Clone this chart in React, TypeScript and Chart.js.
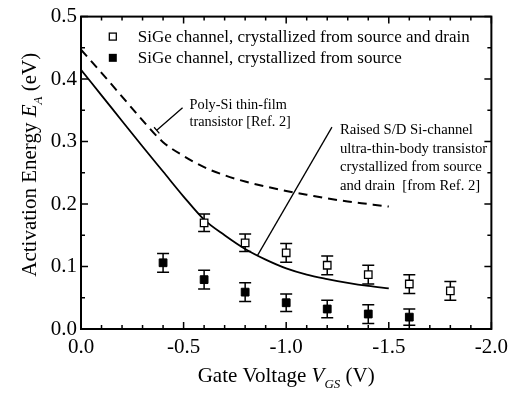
import React, { useEffect, useRef } from "react";
import { Chart, registerables } from "chart.js";

Chart.register(...registerables);

const SERIF = "'Liberation Serif', 'Times New Roman', serif";

// SiGe channel, crystallized from source and drain (open squares)
const vgsSD = [-0.6, -0.8, -1.0, -1.2, -1.4, -1.6, -1.8];
const eaSD = [0.17, 0.138, 0.122, 0.102, 0.087, 0.072, 0.061];
const errSD = [0.014, 0.014, 0.015, 0.015, 0.015, 0.015, 0.015];

// SiGe channel, crystallized from source (filled squares)
const vgsS = [-0.4, -0.6, -0.8, -1.0, -1.2, -1.4, -1.6];
const eaS = [0.106, 0.079, 0.059, 0.042, 0.032, 0.024, 0.019];
const errS = [0.015, 0.015, 0.015, 0.014, 0.014, 0.015, 0.013];

// Reference curves (from Ref. 2)
const vgsCurve = [0, -0.1, -0.2, -0.3, -0.4, -0.5, -0.6, -0.7, -0.8, -0.9, -1.0, -1.1, -1.2, -1.3, -1.4, -1.5];
const eaRaisedSD = [0.415, 0.374, 0.333, 0.292, 0.252, 0.212, 0.175, 0.15, 0.128, 0.111, 0.097, 0.087, 0.08, 0.074, 0.069, 0.065];
const eaPolySi = [0.447, 0.41, 0.372, 0.334, 0.299, 0.277, 0.259, 0.246, 0.236, 0.228, 0.221, 0.215, 0.209, 0.204, 0.2, 0.196];

const xTickValues = [0, -0.5, -1.0, -1.5, -2.0];
const yTickValues = [0, 0.1, 0.2, 0.3, 0.4, 0.5];

const legendLabels = [
  "SiGe channel, crystallized from source and drain",
  "SiGe channel, crystallized from source",
];
const polyLabel = ["Poly-Si thin-film", "transistor [Ref. 2]"];
const raisedLabel = [
  "Raised S/D Si-channel",
  "ultra-thin-body transistor",
  "crystallized from source",
  "and drain  [from Ref. 2]",
];

const pts = (xs: number[], ys: number[]) => xs.map((v, i) => ({ x: v, y: ys[i] }));

type Piece = { t: string; italic?: boolean; sub?: boolean };

function drawRich(ctx: CanvasRenderingContext2D, pieces: Piece[], size: number, cx: number, baseline: number) {
  const fontOf = (p: Piece) =>
    `${p.italic ? "italic " : ""}${p.sub ? Math.round(size * 0.62) : size}px ${SERIF}`;
  let total = 0;
  for (const p of pieces) {
    ctx.font = fontOf(p);
    total += ctx.measureText(p.t).width;
  }
  let xpos = cx - total / 2;
  ctx.textAlign = "left";
  ctx.textBaseline = "alphabetic";
  for (const p of pieces) {
    ctx.font = fontOf(p);
    ctx.fillText(p.t, xpos, baseline + (p.sub ? size * 0.3 : 0));
    xpos += ctx.measureText(p.t).width;
  }
}

const overlay = {
  id: "overlay",
  beforeDatasetsDraw(chart: any) {
    const { ctx, scales } = chart;
    const x = scales.x;
    const y = scales.y;
    ctx.save();
    ctx.strokeStyle = "#000";
    ctx.lineWidth = 1.5;
    const bars = (xs: number[], ys: number[], es: number[]) =>
      xs.forEach((v, i) => {
        const px = x.getPixelForValue(v);
        const top = y.getPixelForValue(ys[i] + es[i]);
        const bot = y.getPixelForValue(ys[i] - es[i]);
        ctx.beginPath();
        ctx.moveTo(px, top);
        ctx.lineTo(px, bot);
        ctx.moveTo(px - 6, top);
        ctx.lineTo(px + 6, top);
        ctx.moveTo(px - 6, bot);
        ctx.lineTo(px + 6, bot);
        ctx.stroke();
      });
    bars(vgsSD, eaSD, errSD);
    bars(vgsS, eaS, errS);
    ctx.restore();
  },
  afterDraw(chart: any) {
    const { ctx, chartArea, scales } = chart;
    const x = scales.x;
    const y = scales.y;
    const { left, right, top, bottom } = chartArea;
    ctx.save();
    ctx.strokeStyle = "#000";
    ctx.fillStyle = "#000";

    // frame
    ctx.lineWidth = 2;
    ctx.strokeRect(left, top, right - left, bottom - top);

    // inward ticks on all four sides
    ctx.lineWidth = 1.5;
    ctx.beginPath();
    for (let k = 0; k <= 20; k++) {
      const v = -k / 10;
      const px = x.getPixelForValue(v);
      const len = k % 5 === 0 ? 7 : 4;
      ctx.moveTo(px, bottom);
      ctx.lineTo(px, bottom - len);
      ctx.moveTo(px, top);
      ctx.lineTo(px, top + len);
    }
    for (let k = 0; k <= 10; k++) {
      const v = k / 20;
      const py = y.getPixelForValue(v);
      const len = k % 2 === 0 ? 7 : 4;
      ctx.moveTo(left, py);
      ctx.lineTo(left + len, py);
      ctx.moveTo(right, py);
      ctx.lineTo(right - len, py);
    }
    ctx.stroke();

    // legend
    const legendMarkX = x.getPixelForValue(-0.155);
    const legendTextX = x.getPixelForValue(-0.277);
    const rows = [0.468, 0.434];
    rows.forEach((rv, i) => {
      const py = y.getPixelForValue(rv);
      ctx.lineWidth = 1.3;
      if (i === 0) {
        ctx.fillStyle = "#fff";
        ctx.fillRect(legendMarkX - 3.5, py - 3.5, 7, 7);
        ctx.strokeRect(legendMarkX - 3.5, py - 3.5, 7, 7);
        ctx.fillStyle = "#000";
      } else {
        ctx.fillRect(legendMarkX - 4, py - 4, 8, 8);
      }
      ctx.font = `17px ${SERIF}`;
      ctx.textAlign = "left";
      ctx.textBaseline = "alphabetic";
      ctx.fillText(legendLabels[i], legendTextX, py + 5.5);
    });

    // Poly-Si annotation
    ctx.lineWidth = 1.3;
    const p1x = x.getPixelForValue(-0.495);
    const p1y = y.getPixelForValue(0.354);
    const p2x = x.getPixelForValue(-0.369);
    const p2y = y.getPixelForValue(0.318);
    ctx.beginPath();
    ctx.moveTo(p1x, p1y);
    ctx.lineTo(p2x, p2y);
    const dx = p1x - p2x;
    const dy = p1y - p2y;
    const dl = Math.hypot(dx, dy);
    const nx = -dy / dl;
    const ny = dx / dl;
    ctx.moveTo(p2x - nx * 4, p2y - ny * 4);
    ctx.lineTo(p2x + nx * 4, p2y + ny * 4);
    ctx.stroke();
    ctx.font = `14.3px ${SERIF}`;
    const polyX = x.getPixelForValue(-0.529);
    const polyY = y.getPixelForValue(0.354);
    polyLabel.forEach((s, i) => ctx.fillText(s, polyX, polyY + 1 + i * 17));

    // Raised S/D annotation
    ctx.beginPath();
    ctx.moveTo(x.getPixelForValue(-1.223), y.getPixelForValue(0.323));
    ctx.lineTo(x.getPixelForValue(-0.859), y.getPixelForValue(0.117));
    ctx.stroke();
    ctx.font = `14.7px ${SERIF}`;
    const rX = x.getPixelForValue(-1.262);
    const rY = y.getPixelForValue(0.312);
    raisedLabel.forEach((s, i) => ctx.fillText(s, rX, rY + i * 18.7));

    // axis titles
    drawRich(
      ctx,
      [{ t: "Gate Voltage " }, { t: "V", italic: true }, { t: "GS", italic: true, sub: true }, { t: " (V)" }],
      21,
      (left + right) / 2,
      382
    );
    ctx.save();
    ctx.translate(36, (top + bottom) / 2 - 8);
    ctx.rotate(-Math.PI / 2);
    drawRich(
      ctx,
      [{ t: "Activation Energy " }, { t: "E", italic: true }, { t: "A", italic: true, sub: true }, { t: " (eV)" }],
      21,
      0,
      0
    );
    ctx.restore();

    ctx.restore();
  },
};

export default function App() {
  const ref = useRef<HTMLCanvasElement | null>(null);

  useEffect(() => {
    document.body.style.margin = "0";
    const canvas = ref.current;
    if (!canvas) return;
    const chart = new Chart(canvas, {
      type: "scatter",
      data: {
        datasets: [
          {
            label: legendLabels[0],
            data: pts(vgsSD, eaSD),
            pointStyle: "rect",
            pointRadius: 5.3,
            pointBackgroundColor: "#fff",
            pointBorderColor: "#000",
            pointBorderWidth: 1.3,
            showLine: false,
          },
          {
            label: legendLabels[1],
            data: pts(vgsS, eaS),
            pointStyle: "rect",
            pointRadius: 5.5,
            pointBackgroundColor: "#000",
            pointBorderColor: "#000",
            pointBorderWidth: 1,
            showLine: false,
          },
          {
            label: "Raised S/D Si-channel UTB transistor",
            data: pts(vgsCurve, eaRaisedSD),
            showLine: true,
            borderColor: "#000",
            borderWidth: 1.8,
            pointRadius: 0,
            cubicInterpolationMode: "monotone",
          },
          {
            label: "Poly-Si thin-film transistor",
            data: pts(vgsCurve, eaPolySi),
            showLine: true,
            borderColor: "#000",
            borderWidth: 2,
            borderDash: [9, 6],
            pointRadius: 0,
            cubicInterpolationMode: "monotone",
          },
        ],
      },
      options: {
        animation: false,
        responsive: false,
        layout: { padding: { top: 13, right: 21, left: 0, bottom: 0 } },
        plugins: { legend: { display: false }, tooltip: { enabled: false } },
        scales: {
          x: {
            type: "linear",
            min: -2,
            max: 0,
            reverse: true,
            afterFit: (s: any) => {
              s.height = 65;
            },
            afterBuildTicks: (s: any) => {
              s.ticks = xTickValues.map((v) => ({ value: v }));
            },
            grid: { display: false, drawTicks: false },
            border: { display: false },
            ticks: {
              color: "#000",
              padding: 6,
              maxRotation: 0,
              font: { family: SERIF, size: 21 },
              callback: (v: any) => Number(v).toFixed(1),
            },
          },
          y: {
            type: "linear",
            min: 0,
            max: 0.5,
            afterFit: (s: any) => {
              s.width = 81;
            },
            afterBuildTicks: (s: any) => {
              s.ticks = yTickValues.map((v) => ({ value: v }));
            },
            grid: { display: false, drawTicks: false },
            border: { display: false },
            ticks: {
              color: "#000",
              padding: 4,
              font: { family: SERIF, size: 21 },
              callback: (v: any) => Number(v).toFixed(1),
            },
          },
        },
      },
      plugins: [overlay],
    });
    return () => chart.destroy();
  }, []);

  return (
    <div style={{ width: 514, height: 394, background: "#fff" }}>
      <canvas ref={ref} width={514} height={394} style={{ display: "block" }} />
    </div>
  );
}
